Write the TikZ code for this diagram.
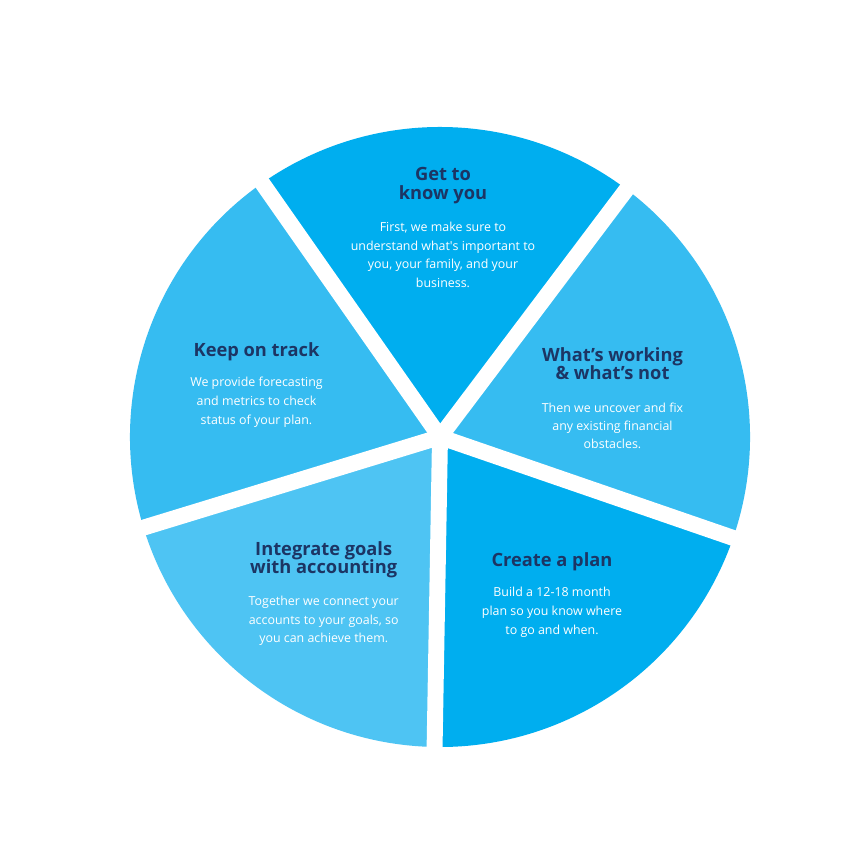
\documentclass[tikz,border=0pt]{standalone}
\usepackage{fontspec}
\setmainfont{Open Sans}
\definecolor{navy}{HTML}{1C3564}
\definecolor{blueA}{HTML}{00AEEF}
\definecolor{blueB}{HTML}{36BCF1}
\definecolor{blueC}{HTML}{4EC4F3}
\begin{document}
\begin{tikzpicture}[x=0.03cm,y=0.03cm,
  title/.style={font=\bfseries\fontsize{15.6}{16}\selectfont, text=navy, anchor=base, inner sep=0pt},
  body/.style={font=\fontsize{10.6}{12}\selectfont, text=white, anchor=base, inner sep=0pt},
  gapline/.style={line width=13.6pt, white, line cap=round}]
\fill[white] (0,0) rectangle (864,865);
\useasboundingbox (0,0) rectangle (864,865);
\coordinate (c) at (440,428);
% slices
\fill[blueA] (c) -- ++(53:9.3cm) arc[start angle=53,end angle=125,radius=9.3cm] -- cycle;
\fill[blueB] (c) -- ++(125:9.3cm) arc[start angle=125,end angle=197,radius=9.3cm] -- cycle;
\fill[blueC] (c) -- ++(197:9.3cm) arc[start angle=197,end angle=269,radius=9.3cm] -- cycle;
\fill[blueA] (c) -- ++(269:9.3cm) arc[start angle=269,end angle=341,radius=9.3cm] -- cycle;
\fill[blueB] (c) -- ++(-19:9.3cm) arc[start angle=-19,end angle=53,radius=9.3cm] -- cycle;
% gaps
\foreach \a in {53,125,197,269,341} \draw[gapline] (c) -- ++(\a:10cm);
% top
\node[title] (t1a) at (443,684.3) {Get to};
\node[title] (t1b) at (443,665) {know you};
\node[body] (b1a) at (443,633.3) {First, we make sure to};
\node[body] (b1b) at (443,614.3) {understand what\textquotesingle s important to};
\node[body] (b1c) at (443,596) {you, your family, and your};
\node[body] (b1d) at (443,577.7) {business.};
% right
\node[title] (t2a) at (612.5,503.3) {What’s working};
\node[title] (t2b) at (612.5,485) {\& what’s not};
\node[body] (b2a) at (612.5,452.3) {Then we uncover and fix};
\node[body] (b2b) at (612.5,434) {any existing financial};
\node[body] (b2c) at (612.5,416) {obstacles.};
% left
\node[title] (t3a) at (256.5,508.3) {Keep on track};
\node[body] (b3a) at (256.5,478.3) {We provide forecasting};
\node[body] (b3b) at (256.5,459) {and metrics to check};
\node[body] (b3c) at (256.5,440) {status of your plan.};
% bottom-left
\node[title] (t4a) at (323.7,309) {Integrate goals};
\node[title] (t4b) at (323.7,291.7) {with accounting};
\node[body] (b4a) at (323.7,259) {Together we connect your};
\node[body] (b4b) at (323.7,240) {accounts to your goals, so};
\node[body] (b4c) at (323.7,222) {you can achieve them.};
% bottom-right
\node[title] (t5a) at (552,298.3) {Create a plan};
\node[body] (b5a) at (552,268.3) {Build a 12-18 month};
\node[body] (b5b) at (552,249) {plan so you know where};
\node[body] (b5c) at (552,230) {to go and when.};
\end{tikzpicture}
\end{document}
